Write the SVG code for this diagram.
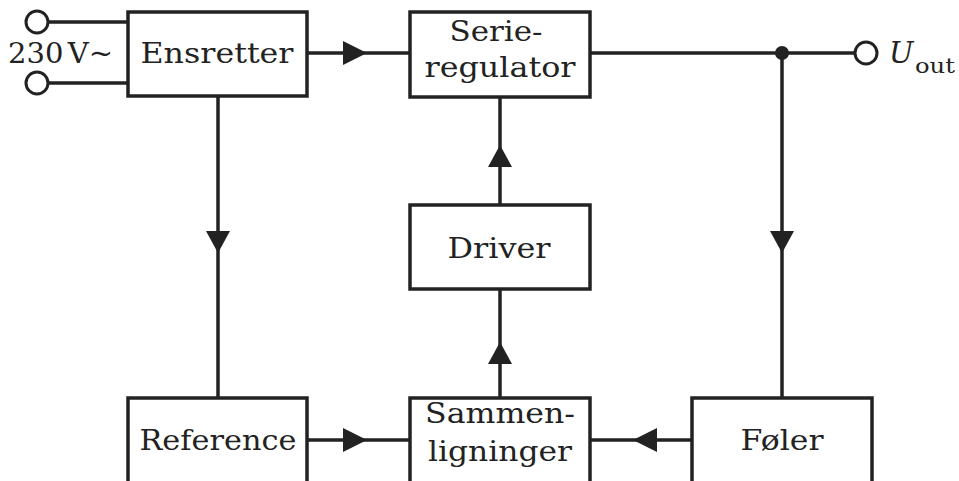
<svg xmlns="http://www.w3.org/2000/svg" width="959" height="481" viewBox="0 0 959 481">
<defs>
<style>
.box{fill:#fff;stroke:#222;stroke-width:3.5}
.ln{fill:none;stroke:#222;stroke-width:3.5}
.t{font-family:"DejaVu Serif","Liberation Serif",serif;font-size:27px;fill:#222;text-anchor:middle}
.ah{fill:#222;stroke:none}
.term{fill:#fff;stroke:#222;stroke-width:3}
</style>
</defs>
<rect width="959" height="481" fill="#fff"/>
<g id="connectors">
<line class="ln" x1="48" y1="22" x2="128" y2="22"/>
<line class="ln" x1="48" y1="83" x2="128" y2="83"/>
<line class="ln" x1="307" y1="53" x2="410" y2="53"/>
<polygon class="ah" points="343,41 367,53 343,65"/>
<line class="ln" x1="590" y1="53" x2="855" y2="53"/>
<circle cx="782" cy="53" r="7" fill="#222"/>
<line class="ln" x1="782" y1="53" x2="782" y2="398"/>
<polygon class="ah" points="770,231 794,231 782,253"/>
<line class="ln" x1="218" y1="96" x2="218" y2="398"/>
<polygon class="ah" points="206,231 230,231 218,253"/>
<line class="ln" x1="500" y1="97" x2="500" y2="205"/>
<polygon class="ah" points="488,167 512,167 500,145"/>
<line class="ln" x1="500" y1="289" x2="500" y2="398"/>
<polygon class="ah" points="488,364 512,364 500,342"/>
<line class="ln" x1="307" y1="440" x2="410" y2="440"/>
<polygon class="ah" points="343,428 367,440 343,452"/>
<line class="ln" x1="590" y1="440" x2="692" y2="440"/>
<polygon class="ah" points="657,428 633,440 657,452"/>
</g>
<g id="terminals">
<circle class="term" cx="37" cy="22" r="11"/>
<circle class="term" cx="37" cy="83" r="11"/>
<circle class="term" cx="866" cy="53" r="11"/>
<text x="8" y="63" font-family="DejaVu Serif, Liberation Serif, serif" font-size="27" fill="#222" textLength="105" lengthAdjust="spacingAndGlyphs">230<tspan dx="4">V~</tspan></text>
<text x="889" y="63" font-family="DejaVu Serif, Liberation Serif, serif" font-size="29" font-style="italic" fill="#222">U</text>
<text x="915" y="73" font-family="DejaVu Serif, Liberation Serif, serif" font-size="21" fill="#222" textLength="40" lengthAdjust="spacingAndGlyphs">out</text>
</g>
<g id="ensretter">
<rect class="box" x="128" y="12" width="179" height="84"/>
<text class="t" x="217" y="63" textLength="153" lengthAdjust="spacingAndGlyphs">Ensretter</text>
</g>
<g id="serieregulator">
<rect class="box" x="410" y="12" width="180" height="85"/>
<text class="t" x="496" y="41" textLength="93" lengthAdjust="spacingAndGlyphs">Serie-</text>
<text class="t" x="500" y="77" textLength="151" lengthAdjust="spacingAndGlyphs">regulator</text>
</g>
<g id="driver">
<rect class="box" x="410" y="205" width="180" height="84"/>
<text class="t" x="499" y="258" textLength="103" lengthAdjust="spacingAndGlyphs">Driver</text>
</g>
<g id="reference">
<rect class="box" x="128" y="398" width="179" height="86"/>
<text class="t" x="218" y="450" textLength="157" lengthAdjust="spacingAndGlyphs">Reference</text>
</g>
<g id="sammenligninger">
<rect class="box" x="410" y="398" width="180" height="86"/>
<text class="t" x="500" y="423" textLength="150" lengthAdjust="spacingAndGlyphs">Sammen-</text>
<text class="t" x="500" y="461" textLength="144" lengthAdjust="spacingAndGlyphs">ligninger</text>
</g>
<g id="foler">
<rect class="box" x="692" y="398" width="180" height="86"/>
<text class="t" x="782" y="450" textLength="83" lengthAdjust="spacingAndGlyphs">Føler</text>
</g>
</svg>
